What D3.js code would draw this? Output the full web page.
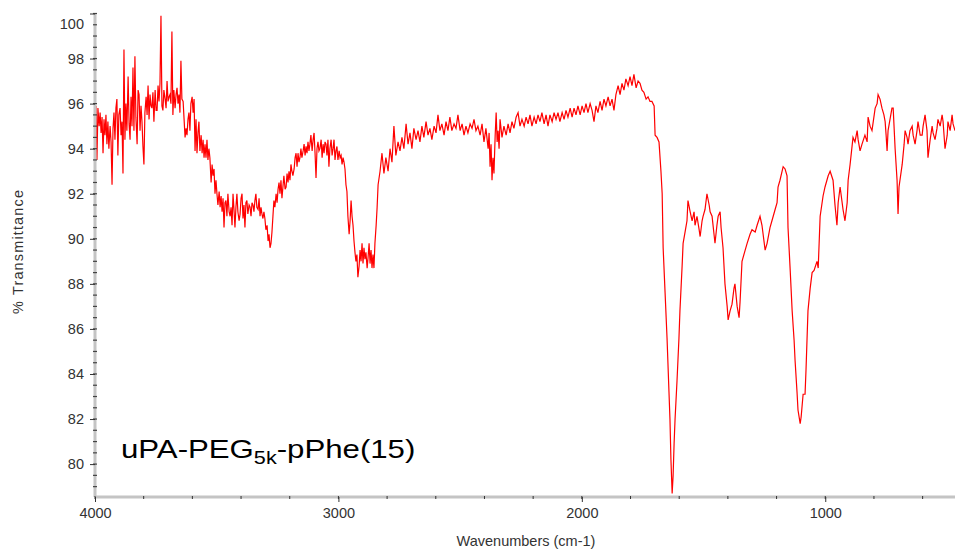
<!DOCTYPE html>
<html>
<head>
<meta charset="utf-8">
<script src="https://cdn.jsdelivr.net/npm/d3@7"></script>
<style>
  body { margin: 0; background: #fff; }
  svg { display: block; font-family: "Liberation Sans", Arial, sans-serif; }
</style>
</head>
<body>
<svg id="chart" width="955" height="550"></svg>
<script>
// spectrum: wavenumber (cm-1) and % transmittance
var wavenumbers = [
  3996,3992,3988,3983,3979,3975,3971,3967,3963,3959,3955,3951,3947,3943,3938,3934,3930,3926,3922,3918,
  3914,3910,3906,3902,3897,3893,3889,3885,3881,3877,3873,3869,3864,3860,3856,3852,3848,3844,3840,3836,
  3832,3827,3823,3819,3815,3811,3807,3803,3799,3795,3790,3786,3782,3778,3774,3770,3766,3762,3758,3753,
  3749,3745,3741,3737,3733,3729,3725,3721,3717,3712,3708,3704,3700,3696,3692,3688,3684,3680,3676,3671,
  3667,3663,3659,3655,3651,3647,3643,3638,3634,3630,3626,3622,3618,3614,3610,3606,3601,3597,3593,3589,
  3585,3581,3577,3573,3569,3564,3560,3556,3552,3548,3544,3540,3536,3532,3528,3523,3519,3515,3511,3507,
  3503,3499,3495,3490,3486,3482,3478,3474,3470,3466,3462,3458,3454,3449,3445,3441,3437,3433,3429,3425,
  3421,3417,3413,3408,3404,3400,3396,3392,3388,3384,3380,3376,3372,3367,3363,3359,3355,3351,3347,3343,
  3339,3335,3330,3326,3322,3318,3314,3310,3306,3302,3298,3293,3289,3285,3281,3277,3273,3269,3265,3261,
  3256,3252,3248,3244,3240,3236,3232,3228,3224,3219,3215,3211,3207,3203,3199,3195,3191,3187,3182,3178,
  3174,3170,3166,3162,3158,3154,3150,3145,3141,3137,3133,3129,3125,3121,3117,3113,3108,3104,3100,3096,
  3092,3088,3084,3080,3076,3071,3067,3063,3059,3055,3051,3047,3043,3039,3035,3030,3026,3022,3018,3014,
  3010,3006,3002,2997,2993,2989,2985,2981,2977,2973,2969,2965,2961,2956,2952,2948,2944,2940,2936,2932,
  2928,2924,2920,2915,2911,2907,2903,2899,2895,2891,2887,2882,2878,2874,2870,2866,2862,2858,2854,2850,
  2845,2841,2837,2829,2821,2813,2805,2796,2788,2780,2772,2764,2755,2747,2739,2731,2722,2714,2706,2698,
  2690,2681,2673,2665,2657,2649,2640,2632,2624,2616,2607,2599,2591,2583,2575,2566,2558,2550,2542,2534,
  2525,2517,2509,2500,2492,2484,2476,2468,2459,2451,2443,2435,2427,2418,2410,2402,2394,2385,2381,2377,
  2373,2369,2365,2361,2356,2352,2348,2344,2340,2336,
  2328,2320,2311,2303,2295,2287,2279,2270,2262,2254,
  2246,2237,2229,2221,2213,2205,2196,2188,2180,2172,
  2164,2155,2147,2139,2131,2122,2114,2106,2098,2090,
  2081,2073,2065,2057,2048,2040,2032,2024,2016,2007,
  1999,1991,1983,1975,1966,1958,1950,1942,1934,1925,
  1917,1909,1901,1892,1884,1876,1868,1860,1851,1843,
  1835,1827,1819,1810,1802,1794,1786,1777,1769,1761,
  1753,1745,1736,1728,1720,1712,1703,1699,1691,1683,
  1675,1670,1666,1658,1650,1642,1638,1634,1629,1625,
  1621,1617,1609,1601,1597,1588,1584,1576,1568,1564,
  1555,1547,1539,1535,1527,1518,1514,1506,1502,1494,
  1486,1477,1473,1465,1457,1453,1445,1440,1432,1428,
  1420,1412,1403,1399,1391,1383,1375,1371,1362,1354,
  1350,1342,1329,1321,1309,1301,1288,1280,1268,1260,
  1247,1239,1227,1219,1206,1198,1194,1186,1173,1165,
  1157,1153,1144,1136,1128,1124,1116,1112,1103,1099,
  1091,1083,1079,1071,1062,1054,1046,1034,1029,1021,
  1009,1001,988,980,968,960,952,947,939,927,
  919,910,906,898,886,878,869,865,857,849,
  837,828,824,816,808,795,787,783,775,767,
  759,754,750,746,742,734,726,721,713,705,
  701,697,684,676,672,664,660,652,643,639,
  631,623,619,610,602,598,590,582,578,569,
  561,557,549,541,537,528,520,516,508,499,
  496,487,479,475,467
];
var transmittance = [
  95.9,93.5,95.8,95.0,95.6,94.7,95.4,93.8,95.3,94.6,95.5,94.2,95.2,94.0,95.0,94.3,92.4,94.9,95.6,94.4,
  95.8,96.2,93.7,95.5,95.8,94.6,95.2,92.9,98.4,94.4,96.0,94.8,97.2,95.1,94.4,96.3,95.0,97.6,94.8,98.1,
  95.4,94.2,96.6,96.4,94.8,95.9,95.2,94.1,93.3,95.6,96.3,95.5,96.8,95.3,96.4,95.9,95.8,96.5,95.2,96.6,
  95.7,95.7,96.8,96.1,96.9,99.9,95.9,95.7,96.6,96.2,95.8,97.0,96.1,96.3,96.4,96.0,99.2,95.5,96.6,95.8,
  96.4,96.7,96.0,96.4,95.6,97.9,96.2,96.1,95.3,94.5,94.9,94.6,95.3,95.6,94.8,96.0,96.3,95.6,96.2,93.9,
  95.3,93.8,94.7,95.2,93.9,94.6,93.8,94.4,93.6,94.2,93.6,94.4,93.5,94.0,93.6,92.5,93.3,92.8,93.1,92.0,
  92.6,92.0,91.5,92.1,91.4,91.9,91.2,91.8,90.5,91.6,91.7,91.0,92.0,91.2,91.0,91.4,90.6,92.0,91.3,90.5,
  91.4,92.0,91.2,90.8,91.1,91.8,92.0,90.9,91.5,90.5,91.6,91.7,91.1,91.5,91.4,91.0,91.6,91.5,91.2,91.7,
  92.0,91.4,91.3,91.8,91.0,91.4,91.1,90.9,91.2,90.9,90.4,90.6,89.9,90.2,89.6,89.8,90.3,91.0,91.7,91.4,
  92.0,91.6,92.2,92.5,92.0,92.6,91.8,92.3,92.8,92.2,92.3,92.9,92.5,93.0,92.6,93.3,93.0,92.8,93.1,93.6,
  93.8,93.2,93.8,93.4,93.6,94.0,93.6,93.9,94.2,93.7,94.1,93.8,94.3,93.9,94.2,94.6,93.9,94.4,94.7,93.8,
  92.7,94.0,94.3,93.9,94.0,94.4,93.6,94.2,93.8,94.3,94.2,93.7,94.4,93.2,94.0,94.4,93.7,94.0,94.4,93.5,
  93.9,94.1,93.5,93.9,93.6,93.7,93.3,93.6,93.4,93.1,92.4,92.1,91.0,90.2,90.8,91.7,91.0,90.6,89.9,89.4,
  89.0,89.3,88.3,88.8,89.5,89.0,89.8,88.9,89.6,89.1,89.4,88.7,89.2,89.8,88.9,89.5,88.7,89.3,88.7,89.8,
  90.6,91.4,92.4,93.0,93.8,92.9,93.6,93.0,94.0,93.4,95.0,93.7,94.3,93.9,94.5,94.0,95.1,94.2,94.7,94.0,
  94.9,94.4,94.8,94.3,95.0,94.5,95.2,94.6,94.9,94.4,95.0,94.7,95.5,94.8,95.1,94.6,95.2,94.8,95.4,94.8,
  95.1,94.9,95.5,94.8,95.1,94.6,95.0,94.7,95.1,94.9,95.3,94.8,95.0,94.6,95.1,94.3,94.9,94.0,94.7,93.2,
  94.2,92.6,93.6,92.9,94.6,95.6,94.3,94.8,94.0,95.3,
  94.5,95.0,94.6,95.1,94.7,95.2,94.9,95.4,95.6,95.0,
  95.3,95.0,95.4,95.1,95.5,95.0,95.4,95.1,95.5,95.2,
  95.6,95.1,95.5,95.0,95.5,95.2,95.6,95.3,95.6,95.2,
  95.6,95.3,95.7,95.4,95.8,95.4,95.8,95.5,95.9,95.5,
  95.9,95.6,96.0,95.6,96.0,95.7,95.2,95.9,95.6,96.1,
  95.7,96.2,95.9,96.3,95.9,96.2,95.7,96.4,96.8,96.4,
  96.9,96.6,97.1,96.8,97.2,96.8,97.3,96.7,97.0,96.9,
  96.6,96.5,96.2,96.3,96.1,96.1,95.9,94.6,94.5,94.3,
  93.0,92.0,89.6,87.6,85.6,83.2,82.0,80.2,78.7,79.5,
  80.9,82.0,83.7,85.6,86.8,88.8,89.8,90.3,90.8,91.7,
  91.2,90.8,91.2,90.6,91.0,90.4,90.1,90.8,91.0,91.3,
  92.0,91.5,91.2,91.0,90.2,89.8,90.6,91.0,91.2,90.5,
  89.6,88.0,87.0,86.4,86.8,87.1,87.8,88.0,87.0,86.5,
  87.2,89.0,89.5,89.8,90.2,90.4,90.3,90.6,91.0,90.6,
  89.5,89.8,90.5,90.8,91.3,91.6,92.3,92.6,93.2,93.1,
  92.8,90.5,88.6,86.8,85.5,84.6,83.2,82.4,81.8,82.1,
  83.1,83.1,84.2,86.8,87.8,88.5,88.6,89.0,88.7,91.0,
  91.9,92.3,92.8,93.0,92.6,91.5,90.6,91.6,92.3,91.3,
  90.8,91.6,92.6,93.3,94.5,94.3,94.8,94.4,93.9,94.2,
  94.6,94.3,95.4,95.0,94.8,95.8,96.0,96.4,96.2,95.8,
  95.5,95.2,94.6,93.9,94.8,95.3,95.8,95.8,94.0,92.6,
  91.1,92.3,93.3,94.2,94.8,94.5,94.2,94.8,95.0,94.6,
  94.2,94.8,95.2,94.6,94.6,95.0,95.5,94.8,93.6,94.4,
  95.0,94.7,94.4,94.9,95.3,95.0,95.5,95.2,94.0,94.6,
  95.2,94.8,95.5,95.1,94.8
];
var yTicks = [80, 82, 84, 86, 88, 90, 92, 94, 96, 98, 100];
var xTicks = [4000, 3000, 2000, 1000];
var xMinor = d3.range(4000, 466, -200);
var yMinor = d3.range(79, 100.01, 0.5);

var svg = d3.select("#chart");
var x = d3.scaleLinear().domain([4000, 467]).range([95, 955]);
var y = d3.scaleLinear().domain([78.54, 100]).range([497, 13.5]);

var n = Math.min(wavenumbers.length, transmittance.length);
var data = d3.range(n).map(function(i) { return [wavenumbers[i], transmittance[i]]; });

svg.append("clipPath").attr("id", "plot")
  .append("rect").attr("x", 95).attr("y", 10).attr("width", 860).attr("height", 487);

svg.append("path")
  .datum(data)
  .attr("clip-path", "url(#plot)")
  .attr("fill", "none")
  .attr("stroke", "#ff0000")
  .attr("stroke-width", 1.2)
  .attr("d", d3.line().x(function(d) { return x(d[0]); }).y(function(d) { return y(d[1]); }));

// axis bands (grey like the original software)
svg.append("line").attr("x1", 95).attr("x2", 955).attr("y1", 497).attr("y2", 497)
  .attr("stroke", "#c4c4c4").attr("stroke-width", 3);
svg.append("line").attr("x1", 95).attr("x2", 95).attr("y1", 14).attr("y2", 497)
  .attr("stroke", "#c4c4c4").attr("stroke-width", 3);

// minor ticks
svg.append("g").selectAll("line").data(xMinor).join("line")
  .attr("x1", function(d) { return x(d); }).attr("x2", function(d) { return x(d); })
  .attr("y1", 496).attr("y2", 499).attr("stroke", "#333").attr("stroke-width", 1);
svg.append("g").selectAll("line").data(yMinor).join("line")
  .attr("y1", function(d) { return y(d); }).attr("y2", function(d) { return y(d); })
  .attr("x1", 93).attr("x2", 97).attr("stroke", "#444").attr("stroke-width", 1.2);

var xAxis = svg.append("g").attr("transform", "translate(0,497)")
  .call(d3.axisBottom(x).tickValues(xTicks).tickSize(5).tickPadding(6).tickFormat(d3.format("d")));
var yAxis = svg.append("g").attr("transform", "translate(95,0)")
  .call(d3.axisLeft(y).tickValues(yTicks).tickSize(5).tickPadding(6).tickFormat(d3.format("d")));

[xAxis, yAxis].forEach(function(g) {
  g.select(".domain").remove();
  g.selectAll(".tick line").attr("stroke", "#333");
  g.selectAll(".tick text").attr("fill", "#333").attr("font-size", 14.5)
    .attr("font-family", "'Liberation Sans', Arial, sans-serif");
});
// top label sits a little lower than its tick
yAxis.selectAll(".tick text").filter(function(d) { return d === 100; }).attr("dy", "1.0em");

svg.append("text")
  .attr("transform", "translate(23,252) rotate(-90)")
  .attr("text-anchor", "middle")
  .attr("fill", "#333").attr("font-size", 14.5)
  .attr("textLength", 124)
  .text("% Transmittance");

svg.append("text")
  .attr("x", 526).attr("y", 546)
  .attr("text-anchor", "middle")
  .attr("fill", "#333").attr("font-size", 14.5)
  .text("Wavenumbers (cm-1)");

var label = svg.append("text")
  .attr("transform", "translate(121,458) scale(1.2,1)")
  .attr("fill", "#000").attr("font-size", 26);
label.append("tspan").text("uPA-PEG");
label.append("tspan").attr("font-size", 18).attr("dy", 6).text("5k");
label.append("tspan").attr("dy", -6).text("-pPhe(15)");
</script>
</body>
</html>
